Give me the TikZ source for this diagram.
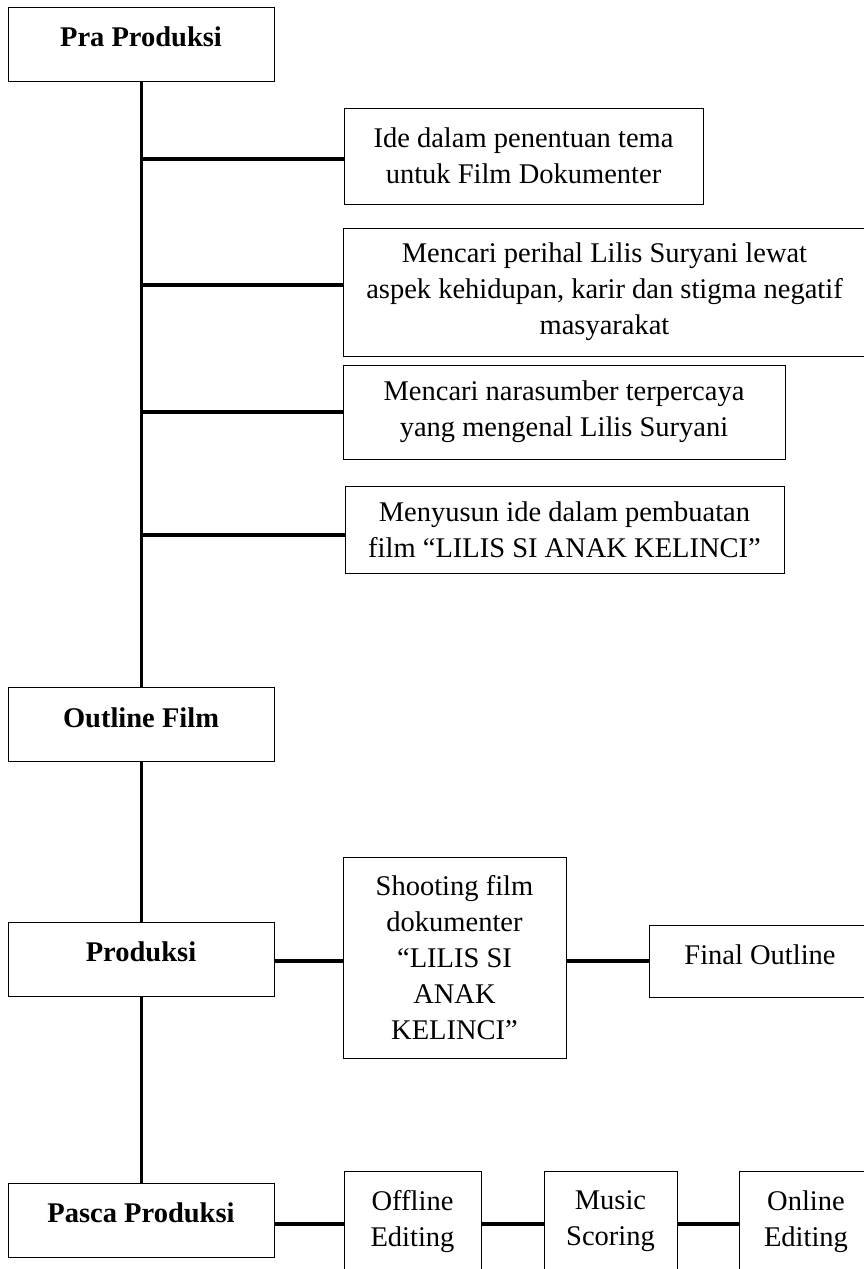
\documentclass[tikz,border=0pt]{standalone}
\usepackage{fontspec}
\setmainfont{Liberation Serif}
\begin{document}
\begin{tikzpicture}[x=1pt,y=-1pt,
  every node/.style={font=\fontsize{28.5}{36}\selectfont},
  stage/.style={draw,line width=1pt,minimum width=266pt,inner ysep=0pt,text height=39.5pt,text depth=34.5pt,font=\fontsize{28.5}{36}\selectfont\bfseries},
  box/.style={draw,line width=1pt,align=center,inner sep=0pt},
  trunk/.style={line width=3pt},
  link/.style={line width=4pt}]
\clip (0,0) rectangle (864,1269);
% main stages
\node[stage] (pra) at (141,44) {Pra Produksi};
\node[stage] (outline) at (141,724.5) {Outline Film};
\node[stage] (prod) at (141,959) {Produksi};
\node[stage] (pasca) at (141,1220) {Pasca Produksi};
% pra produksi steps
\node[box,minimum width=359pt,minimum height=96pt] (ide) at (523.5,156) {Ide dalam penentuan tema\\untuk Film Dokumenter};
\node[box,minimum width=523pt,minimum height=128pt] (perihal) at (604.5,292) {Mencari perihal Lilis Suryani lewat\\aspek kehidupan, karir dan stigma negatif\\masyarakat};
\node[box,minimum width=442pt,minimum height=94pt] (nara) at (564,412) {Mencari narasumber terpercaya\\yang mengenal Lilis Suryani};
\node[box,minimum width=439pt,minimum height=87pt] (susun) at (564.5,529.5) {Menyusun ide dalam pembuatan\\film ``LILIS SI ANAK KELINCI''};
% produksi
\node[box,minimum width=223pt,minimum height=201pt] (shoot) at (454.5,957.5) {Shooting film\\dokumenter\\``LILIS SI\\ANAK\\KELINCI''};
\node[stage,font=\fontsize{28.5}{36}\selectfont,minimum width=222pt,text depth=32.5pt] (final) at (760,961) {Final Outline};
% pasca produksi
\node[box,minimum width=137pt,minimum height=101pt] (offline) at (412.5,1221.5) {Offline\\Editing};
\node[box,minimum width=133pt,minimum height=101pt] (music) at (610.5,1221.5) {Music\\Scoring};
\node[box,minimum width=134pt,minimum height=101pt] (online) at (806,1221.5) {Online\\Editing};
% trunk
\draw[trunk] (pra.south) -- (outline.north);
\draw[trunk] (outline.south) -- (prod.north);
\draw[trunk] (prod.south) -- (pasca.north);
% branches
\draw[link] ([yshift=-3pt]ide.west) -- ([yshift=-3pt]ide.west -| pra.south);
\draw[link] ([yshift=7pt]perihal.west) -- ([yshift=7pt]perihal.west -| pra.south);
\draw[link] (nara.west) -- (nara.west -| pra.south);
\draw[link] ([yshift=-5.5pt]susun.west) -- ([yshift=-5.5pt]susun.west -| pra.south);
\draw[link] ([yshift=-2pt]prod.east) -- ([yshift=-2pt]prod.east -| shoot.west);
\draw[link] ([yshift=-3.5pt]shoot.east) -- ([yshift=-3.5pt]shoot.east -| final.west);
\draw[link] ([yshift=-4pt]pasca.east) -- ([yshift=-4pt]pasca.east -| offline.west);
\draw[link] ([yshift=-2.5pt]offline.east) -- ([yshift=-2.5pt]offline.east -| music.west);
\draw[link] ([yshift=-2.5pt]music.east) -- ([yshift=-2.5pt]music.east -| online.west);
\end{tikzpicture}
\end{document}
